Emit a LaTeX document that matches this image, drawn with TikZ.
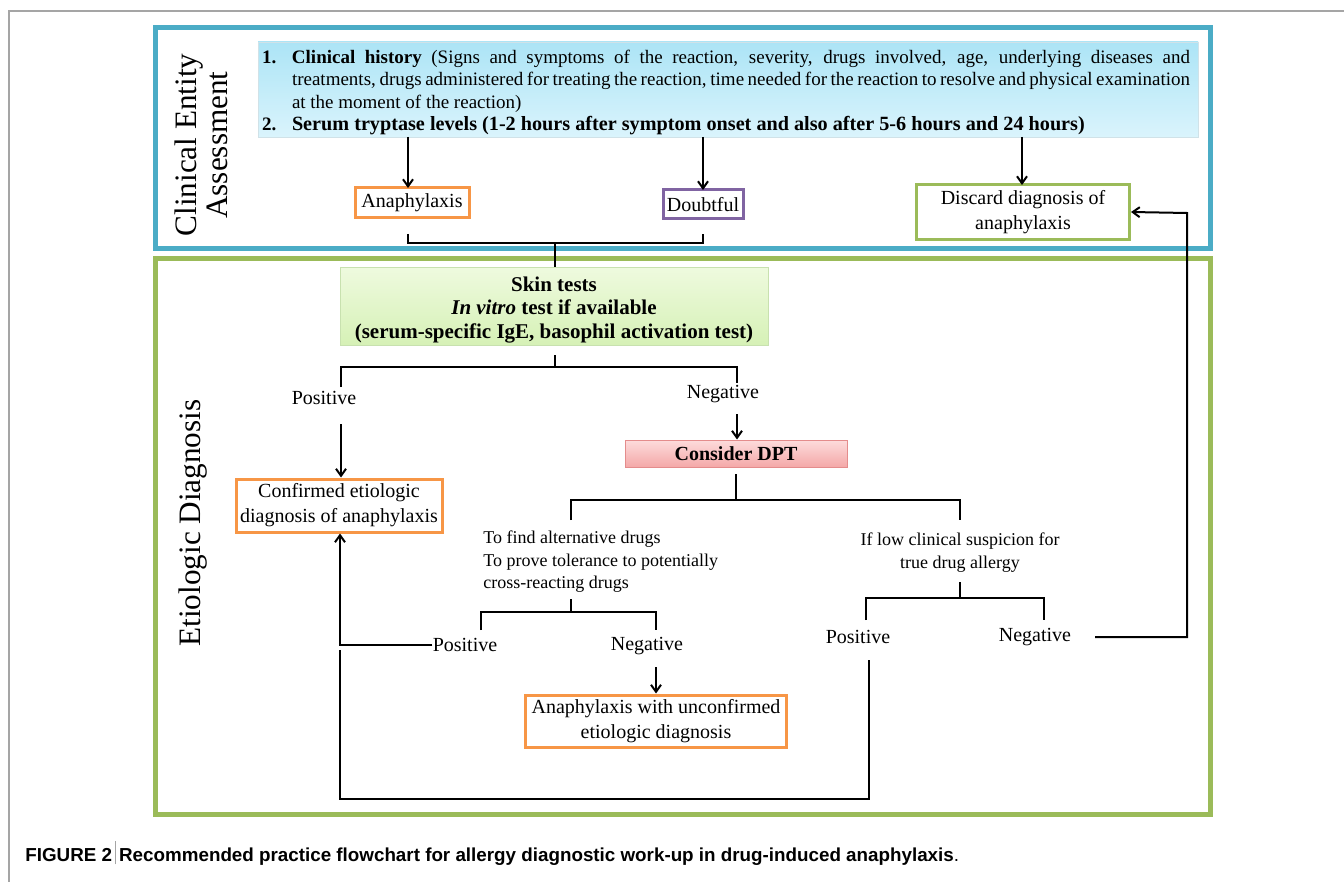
\documentclass[tikz,border=0pt]{standalone}
\usepackage{fontspec}
\setmainfont{Liberation Serif}
\newfontfamily\capfont{Liberation Sans}
\usetikzlibrary{arrows.meta}
\definecolor{frameblue}{RGB}{75,172,198}
\definecolor{framegreen}{RGB}{155,187,89}
\definecolor{boxorange}{RGB}{247,150,70}
\definecolor{boxpurple}{RGB}{128,100,162}
\definecolor{cyantop}{RGB}{172,228,246}
\definecolor{cyanbot}{RGB}{218,244,252}
\definecolor{greentop}{RGB}{238,250,222}
\definecolor{greenbot}{RGB}{214,241,182}
\definecolor{greenline}{RGB}{200,225,175}
\definecolor{pinktop}{RGB}{253,220,220}
\definecolor{pinkbot}{RGB}{244,168,168}
\definecolor{pinkline}{RGB}{228,140,140}
\definecolor{framegray}{RGB}{165,165,165}
\tikzset{
  x=0.5pt, y=-0.5pt,
  txt/.style={inner sep=0pt, font=\fontsize{10}{11.5}\selectfont, align=center},
  smalltxt/.style={inner sep=0pt, font=\fontsize{9}{11.25}\selectfont},
  obox/.style={draw=boxorange, line width=1.5pt, inner sep=0pt, font=\fontsize{10}{12.5}\selectfont, align=center},
  conn/.style={line width=1pt, draw=black},
  arr/.style={conn, -{Straight Barb[length=3.5pt,width=5pt]}},
  bigframe/.style={line width=2.5pt},
  sidelabel/.style={rotate=90, inner sep=0pt, align=center, font=\fontsize{15.6}{15.5}\selectfont},
}
\begin{document}
\begin{tikzpicture}
\useasboundingbox[fill=white] (0,0) rectangle (1344,882);
% page frame
\draw[framegray, line width=0.75pt] (9,882) -- (9,11) -- (1344,11);
% section frames
\draw[frameblue, bigframe] (155,28) rectangle (1210,249);
\draw[framegreen, bigframe] (155,259) rectangle (1210,814);
% side labels
\node[sidelabel] (lblA) at (201,145) {Clinical Entity\\Assessment};
\node[sidelabel] (lblB) at (193,523) {Etiologic Diagnosis};
% history box
\node[shading=axis, top color=cyantop, bottom color=cyanbot, draw=cyantop!80!black!40, line width=0.4pt,
      minimum width=470pt, minimum height=47.5pt, inner sep=0pt] (hist) at (728,89.5) {};
\node[inner sep=0pt] (histtxt) at (726,92.5) {\parbox{464pt}{\fontsize{9.5}{11.2}\selectfont
  \leftskip=15pt\noindent\llap{\makebox[15pt][l]{\textbf{1.}}}\textbf{Clinical history} (Signs and symptoms of the reaction, severity, drugs involved, age, underlying diseases and\linebreak treatments, drugs administered for treating the reaction, time needed for the reaction to resolve and physical examination\linebreak at the moment of the reaction)\par
  \noindent\llap{\makebox[15pt][l]{\textbf{2.}}}\textbf{\fontsize{10.1}{11.2}\selectfont Serum tryptase levels (1-2 hours after symptom onset and also after 5-6 hours and 24 hours)}\par}};
% first level boxes
\node[obox, minimum width=57pt, minimum height=15pt] (ana) at (412,203) {Anaphylaxis};
\node[obox, draw=boxpurple, minimum width=40pt, minimum height=14.5pt] (dbt) at (703,204.5) {Doubtful};
\node[obox, draw=framegreen, minimum width=106.5pt, minimum height=27.5pt] (disc) at (1023,212) {Discard diagnosis of\\anaphylaxis};
\draw[arr] (408,137) -- (408,188);
\draw[arr] (703,137) -- (703,190);
\draw[arr] (1022,137) -- (1022,185);
% bracket to skin tests
\coordinate (bA) at (408,234);
\coordinate (bD) at (703,234);
\coordinate (bM) at (555,243);
\node[shading=axis, top color=greentop, bottom color=greenbot, draw=greenline, line width=0.5pt,
      minimum width=214pt, minimum height=38.5pt, inner sep=0pt] (skin) at (554,306.5) {};
\node[inner sep=0pt, align=center, font=\bfseries\fontsize{10.5}{11.75}\selectfont] (skintxt) at (554,310)
      {Skin tests\\\textit{In vitro} test if available\\(serum-specific IgE, basophil activation test)};
\draw[conn] (bA) -- (408,243) -- (703,243) -- (bD);
\draw[conn] (bM) -- (bM |- skin.north);
% skin results
\coordinate (sT) at (555,355);
\coordinate (sM) at (555,367);
\draw[conn] (sT) -- (sM);
\draw[conn] (341,387) -- (341,367) -- (737,367) -- (737,383);
\node[txt] (pos1) at (324,398) {Positive};
\node[txt] (neg1) at (723,394) {Negative};
\node[obox, minimum width=103pt, minimum height=26.5pt] (conf) at (339,505.5) {Confirmed etiologic\\diagnosis of anaphylaxis};
\draw[arr] (341,424) -- (341,0 |- conf.north);
\node[shading=axis, top color=pinktop, bottom color=pinkbot, draw=pinkline, line width=0.5pt,
      minimum width=111pt, minimum height=13.5pt, inner sep=0pt,
      font=\bfseries\fontsize{10}{12}\selectfont] (dpt) at (736,453.5) {Consider DPT};
\draw[arr] (737,414) -- (737,0 |- dpt.north);
% DPT branches
\draw[conn] (736,474) -- (736,500);
\draw[conn] (571,520) -- (571,500) -- (960,500) -- (960,520);
\node[smalltxt, align=left, anchor=west] (alt) at (483,562) {To find alternative drugs\\To prove tolerance to potentially\\cross-reacting drugs};
\node[smalltxt, align=center] (low) at (960,552.5) {If low clinical suspicion for\\true drug allergy};
% left sub-branch
\draw[conn] (571,599) -- (571,612);
\draw[conn] (481,630) -- (481,612) -- (656,612) -- (656,630);
\node[txt] (pos2) at (465,645) {Positive};
\node[txt] (neg2) at (647,646) {Negative};
\node[obox, minimum width=130.5pt, minimum height=26pt] (unc) at (656,721) {Anaphylaxis with unconfirmed\\etiologic diagnosis};
\draw[arr] (656,667) -- (656,0 |- unc.north);
\draw[arr] (pos2.west) -- (340,645) -- (340,0 |- conf.south);
% right sub-branch
\draw[conn] (960,582) -- (960,598);
\draw[conn] (866,620) -- (866,598) -- (1044,598) -- (1044,620);
\node[txt] (pos3) at (858,637) {Positive};
\node[txt] (neg3) at (1035,637) {Negative};
\draw[conn] (869,660) -- (869,799) -- (340,799) -- (340,650);
\draw[arr] (1095,637) -- (1187,637) -- (1187,213) -- (disc.east);
% caption
\node[anchor=west, inner sep=0pt, font=\capfont\fontsize{9.4}{11}\selectfont] (cap) at (25,853)
  {\textbf{FIGURE 2}\,{\color{framegray}\rule[-0.3ex]{0.4pt}{2.4ex}}\,\textbf{Recommended practice flowchart for allergy diagnostic work-up in drug-induced anaphylaxis}.};
\end{tikzpicture}
\end{document}
